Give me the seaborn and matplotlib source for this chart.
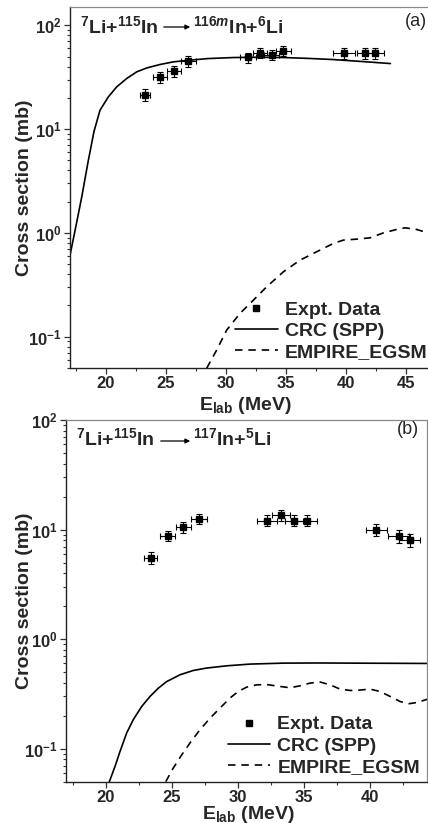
import matplotlib
matplotlib.use("Agg")
import matplotlib.pyplot as plt
import seaborn as sns
import pandas as pd
from matplotlib.lines import Line2D
from matplotlib.patches import FancyArrowPatch
from matplotlib.ticker import MultipleLocator, LogLocator

# ---------------- data ----------------
# Panel (a): 7Li+115In -> 116mIn+6Li
energy_a = [23.25, 24.5, 25.67, 26.86, 31.83, 32.83, 33.8, 34.78, 39.83, 41.6, 42.4]
sigma_a = [21.5, 31.6, 36.0, 45.0, 49.0, 54.0, 52.0, 57.0, 54.0, 54.0, 54.0]
sigma_a_err = [2.8, 3.8, 4.3, 5.2, 5.5, 6.0, 6.0, 6.5, 7.0, 7.0, 7.0]
energy_a_err = [0.45, 0.55, 0.55, 0.6, 0.7, 0.6, 0.6, 0.65, 0.9, 0.7, 0.75]

crc_a_E = [17.0, 17.5, 18.0, 18.5, 19.0, 19.5, 20.19, 20.89,
           21.72, 22.56, 23.39, 24.5, 25.6, 26.86, 28.5, 30.6, 32.7, 34.8, 36.8,
           38.9, 41.3, 43.7]
crc_a_s = [0.61, 1.17, 2.29, 4.8, 9.5, 15.2, 20.4, 25.5,
           30.7, 35.6, 38.8, 41.9, 44.4, 46.0, 47.8, 48.9, 49.2, 48.9, 48.0,
           46.8, 44.8, 42.8]

emp_a_E = [28.39, 29.22, 30.06, 31.17, 32.28, 33.39, 34.78, 36.17, 37.83, 38.94,
           39.78, 40.89, 42.0, 43.11, 44.22, 44.92, 45.89, 46.83, 47.8]
emp_a_s = [0.0497, 0.0744, 0.116, 0.168, 0.225, 0.303, 0.422, 0.547, 0.683, 0.792,
           0.853, 0.871, 0.897, 1.0, 1.08, 1.12, 1.08, 1.0, 0.9]

# Panel (b): 7Li+115In -> 117In+5Li
energy_b = [23.41, 24.70, 25.88, 27.07, 32.19, 33.28, 34.26, 35.22, 40.47, 42.19, 43.02]
sigma_b = [5.5, 8.8, 10.6, 12.6, 12.1, 13.6, 12.1, 12.1, 10.0, 8.7, 8.1]
sigma_b_err = [0.7, 1.0, 1.2, 1.4, 1.4, 1.5, 1.4, 1.4, 1.3, 1.2, 1.1]
energy_b_err = [0.5, 0.55, 0.55, 0.6, 0.75, 0.7, 0.7, 0.75, 0.8, 0.8, 0.8]

crc_b_E = [20.28, 20.71, 21.09, 21.59, 22.09, 22.73, 23.36, 23.99, 24.62, 25.63,
           26.64, 27.65, 29.17, 30.93, 33.45, 36.0, 40.0, 44.4]
crc_b_s = [0.050, 0.069, 0.0945, 0.139, 0.184, 0.243, 0.30, 0.357, 0.41, 0.473,
           0.518, 0.545, 0.571, 0.592, 0.604, 0.606, 0.603, 0.600]

emp_b_E = [24.55, 25.12, 25.76, 26.39, 27.14, 27.9, 28.66, 29.41, 30.04, 30.68,
           31.44, 32.19, 33.2, 33.96, 34.71, 35.47, 36.23, 36.99, 37.74, 38.5,
           39.26, 40.01, 40.77, 41.53, 42.28, 42.91, 43.55, 44.4]
emp_b_s = [0.050, 0.0667, 0.088, 0.113, 0.149, 0.19, 0.235, 0.29, 0.333, 0.365,
           0.383, 0.385, 0.37, 0.36, 0.375, 0.397, 0.406, 0.383, 0.35, 0.34,
           0.343, 0.35, 0.333, 0.30, 0.27, 0.257, 0.264, 0.284]

legend_labels = ["Expt. Data", "CRC (SPP)", "EMPIRE_EGSM"]

# ---------------- style ----------------
sns.set_theme(style="ticks")
plt.rcParams["font.family"] = ["Liberation Sans", "DejaVu Sans"]
plt.rcParams["font.weight"] = "bold"
plt.rcParams["mathtext.fontset"] = "custom"
plt.rcParams["mathtext.rm"] = "Liberation Sans:bold"
plt.rcParams["mathtext.bf"] = "Liberation Sans:bold"
plt.rcParams["mathtext.it"] = "Liberation Sans:bold:italic"
plt.rcParams["mathtext.default"] = "bf"

W, H = 428, 823
fig = plt.figure(figsize=(W / 100, H / 100), dpi=100)


def px_axes(l, t, r, b):
    return fig.add_axes([l / W, 1 - b / H, (r - l) / W, (b - t) / H])


ax1 = px_axes(70, 7, 442, 368)
ax2 = px_axes(66, 420, 426.7, 781.7)

dash = (0, (4.5, 3.5))


def draw(ax, E, s, serr, eerr, cE, cs, mE, ms, xlim, ylim):
    ax.set_yscale("log")
    ax.errorbar(E, s, yerr=serr, xerr=eerr, fmt="s", color="black", ms=5,
                elinewidth=0.8, capsize=2.5, capthick=0.8, zorder=3)
    sns.lineplot(data=pd.DataFrame({"E": cE, "s": cs}), x="E", y="s", ax=ax,
                 color="black", lw=1.2, estimator=None, sort=False)
    sns.lineplot(data=pd.DataFrame({"E": mE, "s": ms}), x="E", y="s", ax=ax,
                 color="black", lw=1.2, estimator=None, sort=False, linestyle=dash)
    ax.set_xlim(*xlim)
    ax.set_ylim(*ylim)
    ax.xaxis.set_major_locator(MultipleLocator(5))
    ax.xaxis.set_minor_locator(MultipleLocator(2.5))
    ax.yaxis.set_major_locator(LogLocator(base=10))
    ax.yaxis.set_minor_locator(LogLocator(base=10, subs=range(2, 10)))
    ax.tick_params(which="major", direction="out", length=4, width=0.9,
                   labelsize=12, pad=2, color="#333333")
    ax.tick_params(which="minor", direction="out", length=2, width=0.8, color="#333333")
    for sp in ["left", "bottom"]:
        ax.spines[sp].set_color("#222222")
        ax.spines[sp].set_linewidth(1.0)
    for sp in ["top", "right"]:
        ax.spines[sp].set_color("#888888")
        ax.spines[sp].set_linewidth(0.9)
    ax.set_xlabel(r"E$_{\mathbf{lab}}$ (MeV)", fontsize=14, fontweight="bold")
    ax.set_ylabel("Cross section (mb)", fontsize=14, fontweight="bold")
    handles = [
        Line2D([], [], marker="s", color="black", ls="none", ms=5),
        Line2D([], [], color="black", lw=1.2),
        Line2D([], [], color="black", lw=1.2, linestyle=dash),
    ]
    return handles


h = draw(ax1, energy_a, sigma_a, sigma_a_err, energy_a_err, crc_a_E, crc_a_s,
         emp_a_E, emp_a_s, (17, 48), (0.05, 150))
draw(ax2, energy_b, sigma_b, sigma_b_err, energy_b_err, crc_b_E, crc_b_s,
     emp_b_E, emp_b_s, (17, 44.3), (0.05, 100))

ax1.xaxis.set_label_coords((245 - 70) / 372, (368 - 395) / 361)
ax2.xaxis.set_label_coords((248 - 66) / 360.7, (781.7 - 804) / 361.7)
ax1.yaxis.set_label_coords((33 - 70) / 372, 0.5)
ax2.yaxis.set_label_coords((33 - 66) / 360.7, 0.5)

for ax, (lx, ly) in [(ax1, ((235 - 70) / 372, (368 - 331) / 361)),
                     (ax2, ((227.7 - 66) / 360.7, (781.7 - 745.7) / 361.7))]:
    ax.legend(h, legend_labels, loc="center left", bbox_to_anchor=(lx, ly),
              frameon=False, borderpad=0, borderaxespad=0, handlelength=2.2,
              handletextpad=0.35, labelspacing=0.18,
              prop={"weight": "bold", "size": 14})


def ftext(x, y, s, **kw):
    fig.text(x / W, 1 - y / H, s, **kw)


def farrow(x0, x1, y):
    fig.add_artist(FancyArrowPatch((x0 / W, 1 - y / H), (x1 / W, 1 - y / H),
                                   transform=fig.transFigure, arrowstyle="-|>",
                                   mutation_scale=7, color="black", lw=0.9))


# Reaction labels
ftext(80, 26, r"$^{7}$Li+$^{115}$In", fontsize=14, fontweight="bold", va="center", ha="left")
farrow(161, 193, 27)
ftext(193, 26, r"$^{116\mathit{m}}$In+$^{6}$Li", fontsize=14, fontweight="bold", va="center", ha="left")
ftext(405, 22, "(a)", fontsize=13, fontweight="normal", va="center", ha="left")

ftext(76, 438, r"$^{7}$Li+$^{115}$In", fontsize=14, fontweight="bold", va="center", ha="left")
farrow(158, 193, 441)
ftext(193, 438, r"$^{117}$In+$^{5}$Li", fontsize=14, fontweight="bold", va="center", ha="left")
ftext(397, 430, "(b)", fontsize=13, fontweight="normal", va="center", ha="left")

fig.savefig("out.png", dpi=100)
